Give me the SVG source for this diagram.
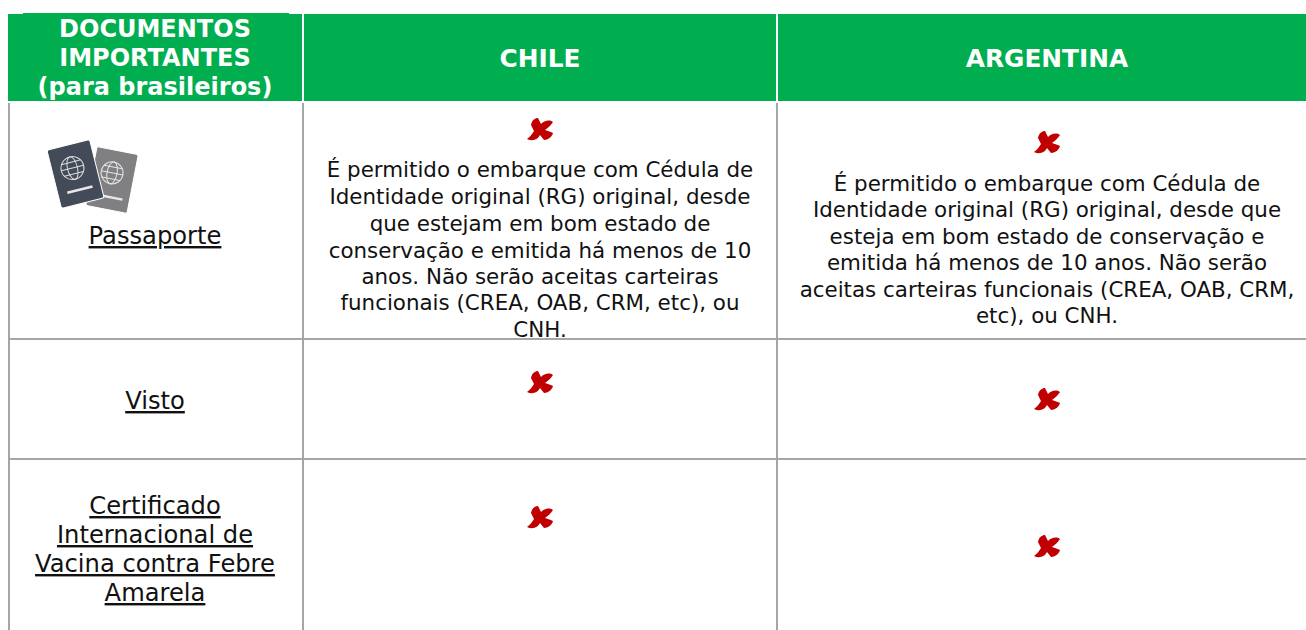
<svg xmlns="http://www.w3.org/2000/svg" width="1306" height="630" viewBox="0 0 1306 630">
<style>
text{font-family:"DejaVu Sans",Verdana,sans-serif;text-anchor:middle;fill:#111}
.h{font-weight:700;font-size:24px;fill:#fff}
.w{font-size:24.8px}
.l{font-size:24.2px;text-decoration:underline}
.b{font-size:21.4px}
.g{fill:#a6a6a6}
.hd{fill:#00ae4f}
</style>
<defs>
<path id="x" d="M-9-5C-8-10-5-12-2-12L1-6C4-9 9-11 13-8C11-5 8-2 5 0C8 1 11 2 13 3C12 7 8 10 4 10L0 5C-2 9-7 12-13 9C-10 7-8 4-6 1Z" fill="#c00000"/>
</defs>
<g id="grid">
<rect class="g" x="8" y="103" width="2" height="527"/>
<rect class="g" x="302" y="103" width="2" height="527"/>
<rect class="g" x="776" y="103" width="2" height="527"/>
<rect class="g" x="8" y="338" width="1298" height="2"/>
<rect class="g" x="8" y="458" width="1298" height="2"/>
</g>
<g id="header-docs"><rect class="hd" x="8" y="14" width="294" height="87"/><rect class="hd" x="23" y="13" width="266" height="1"/>
<text class="h" x="155" y="37">DOCUMENTOS</text><text class="h" x="155" y="66">IMPORTANTES</text><text class="h" x="155" y="95">(para brasileiros)</text></g>
<g id="header-chile"><rect class="hd" x="304" y="14" width="472" height="87"/><text class="h w" x="540" y="67">CHILE</text></g>
<g id="header-argentina"><rect class="hd" x="778" y="14" width="528" height="87"/><text class="h w" x="1047" y="67">ARGENTINA</text></g>
<g id="passaporte">
<g id="icon">
<g transform="translate(112 180) rotate(11)"><rect x="-21" y="-30" width="42" height="60" rx="2" fill="#808082" stroke="#fff" stroke-width="1"/>
<g fill="none" stroke="#e4e4e4" stroke-width="1"><circle cx="-1.300" cy="-7" r="11"/><ellipse cx="-1.300" cy="-7" rx="5" ry="11"/><path d="M-12.300-7H9.700M-10.500-13H8M-10.500-1H8"/></g><rect x="-14" y="16" width="28" height="2.500" fill="#e8e8e8"/></g>
<g transform="translate(75.500 174) rotate(-14)"><rect x="-22" y="-30" width="44" height="60" rx="2" fill="#434a58" stroke="#fff" stroke-width="1"/>
<g fill="none" stroke="#dcdcdc" stroke-width="1"><circle cx="-1.500" cy="-6.500" r="11.500"/><ellipse cx="-1.500" cy="-6.500" rx="5" ry="11.500"/><path d="M-13-6.500H10M-11.500-12.500H8.500M-11.500-.500H8.500"/></g>
<rect x="-12.500" y="15" width="26" height="2.500" fill="#e8e8e8"/></g>
</g>
<text class="l" x="155" y="244">Passaporte</text></g>
<g id="visto"><text class="l" x="155" y="409">Visto</text></g>
<g id="certificado"><text class="l" x="155" y="514">Certificado</text><text class="l" x="155" y="543">Internacional de</text><text class="l" x="155" y="572">Vacina contra Febre</text><text class="l" x="155" y="601">Amarela</text></g>
<g id="chile-passaporte"><use href="#x" x="540" y="130"/>
<text class="b" x="540" y="177">É permitido o embarque com Cédula de</text>
<text class="b" x="540" y="204">Identidade original (RG) original, desde</text>
<text class="b" x="540" y="231">que estejam em bom estado de</text>
<text class="b" x="540" y="258">conservação e emitida há menos de 10</text>
<text class="b" x="540" y="284">anos. Não serão aceitas carteiras</text>
<text class="b" x="540" y="310">funcionais (CREA, OAB, CRM, etc), ou</text>
<text class="b" x="540" y="337">CNH.</text></g>
<g id="argentina-passaporte"><use href="#x" x="1047" y="143"/>
<text class="b" x="1047" y="191">É permitido o embarque com Cédula de</text>
<text class="b" x="1047" y="217">Identidade original (RG) original, desde que</text>
<text class="b" x="1047" y="244">esteja em bom estado de conservação e</text>
<text class="b" x="1047" y="270">emitida há menos de 10 anos. Não serão</text>
<text class="b" x="1047" y="297">aceitas carteiras funcionais (CREA, OAB, CRM,</text>
<text class="b" x="1047" y="323">etc), ou CNH.</text></g>
<g id="chile-visto"><use href="#x" x="540" y="383"/></g>
<g id="argentina-visto"><use href="#x" x="1047" y="400"/></g>
<g id="chile-certificado"><use href="#x" x="540" y="518"/></g>
<g id="argentina-certificado"><use href="#x" x="1047" y="547"/></g>
</svg>
